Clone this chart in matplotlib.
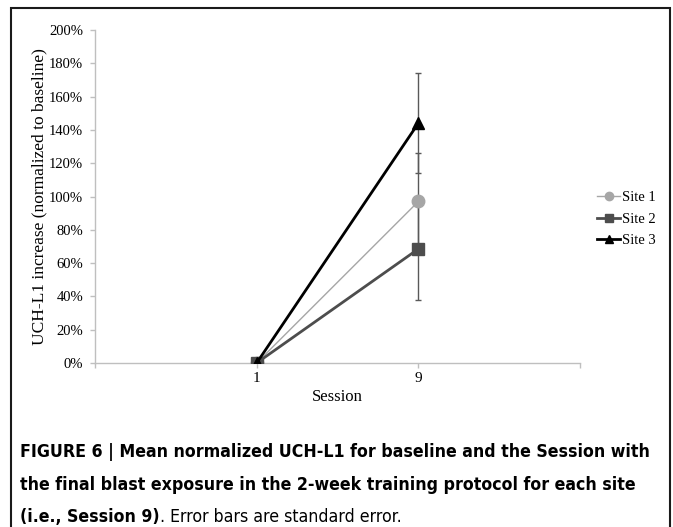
import matplotlib.pyplot as plt
import numpy as np
from matplotlib.patches import Rectangle

# data
sesi_label = ['1', '9']
site1 = [0.0, 97.0]
site2 = [0.0, 68.5]
site3 = [0.0, 144.0]
err_site1 = [0.0, 29.0]
err_site2 = [0.0, 30.5]
err_site3 = [0.0, 30.0]

serif = ['Liberation Serif', 'DejaVu Serif']
cond = ['DejaVu Sans']

fig = plt.figure(figsize=(6.73, 5.27), dpi=100)
ax = fig.add_axes([95 / 673, 1 - 363 / 527, 485 / 673, 333 / 527])

x = np.arange(1, len(sesi_label) + 1)

seri = [
    (site1, err_site1, 'Site 1', '#a6a6a6', 'o', 9, 1.0),
    (site2, err_site2, 'Site 2', '#4d4d4d', 's', 9, 2.0),
    (site3, err_site3, 'Site 3', '#000000', '^', 9, 2.0),
]

for vals, err, nama, warna, mk, ms, lw in seri:
    ax.errorbar(x[1:], vals[1:], yerr=err[1:], fmt='none', ecolor='#595959',
                elinewidth=1.0, capsize=2.5, capthick=1.0, zorder=2)

for vals, err, nama, warna, mk, ms, lw in seri:
    ax.plot(x, vals, color=warna, marker=mk, markersize=ms, linewidth=lw,
            label=nama, zorder=3)

ax.set_xlim(0, 3)
ax.set_ylim(0, 200)
ax.set_yticks(np.arange(0, 201, 20))
ax.set_yticklabels([f'{v}%' for v in range(0, 201, 20)], fontfamily=serif, fontsize=10.5)
ax.set_xticks([0, 1, 2, 3])
ax.set_xticklabels([''] + sesi_label + [''], fontfamily=serif, fontsize=11)

for s in ['top', 'right']:
    ax.spines[s].set_visible(False)
for s in ['left', 'bottom']:
    ax.spines[s].set_color('#bfbfbf')
    ax.spines[s].set_linewidth(1.0)
ax.tick_params(axis='both', direction='out', length=3.5, width=1.0, color='#bfbfbf',
               labelcolor='#000000', pad=5)
ax.tick_params(axis='x', pad=3)

ax.set_ylabel('UCH-L1 increase (normalized to baseline)', fontfamily=serif, fontsize=12.5,
              labelpad=1)
ax.set_xlabel('Session', fontfamily=serif, fontsize=12, labelpad=3)

leg = fig.legend(loc='center left', bbox_to_anchor=(584 / 673, 1 - 219 / 527),
                 frameon=False, handlelength=1.6, handletextpad=0.1,
                 labelspacing=0.55, prop={'family': serif, 'size': 10.5})
for h in leg.legend_handles:
    h.set_markersize(6)

# bingkai luar
fig.add_artist(Rectangle((11 / 673, -0.01), 659 / 673, 1 - 8 / 527 + 0.01,
                         transform=fig.transFigure, fill=False, edgecolor='#1a1a1a',
                         linewidth=1.5))

# caption, lebar baris pertama disesuaikan dengan referensi (~626 px)
cx = 20 / 673
baris = ['FIGURE 6 | Mean normalized UCH-L1 for baseline and the Session with',
         'the final blast exposure in the 2-week training protocol for each site']
ukuran = 14.5
teks = [fig.text(cx, 1 - y / 527, b, fontfamily=cond, fontstretch='condensed',
                 fontweight='bold', fontsize=ukuran, va='center')
        for b, y in zip(baris, [452, 485])]
t1 = fig.text(cx, 1 - 517 / 527, '(i.e., Session 9)', fontfamily=cond, fontstretch='condensed',
              fontweight='bold', fontsize=ukuran, va='center')
fig.canvas.draw()
lebar = teks[0].get_window_extent().width
skala = 626 / lebar
ukuran = ukuran * skala
for t in teks + [t1]:
    t.set_fontsize(ukuran)
fig.canvas.draw()
bb = t1.get_window_extent()
fig.text(bb.x1 / fig.bbox.width, 1 - 517 / 527, '. Error bars are standard error.',
         fontfamily=cond, fontstretch='condensed', fontsize=ukuran, va='center')

plt.savefig('out.png', dpi=100)
plt.close(fig)
